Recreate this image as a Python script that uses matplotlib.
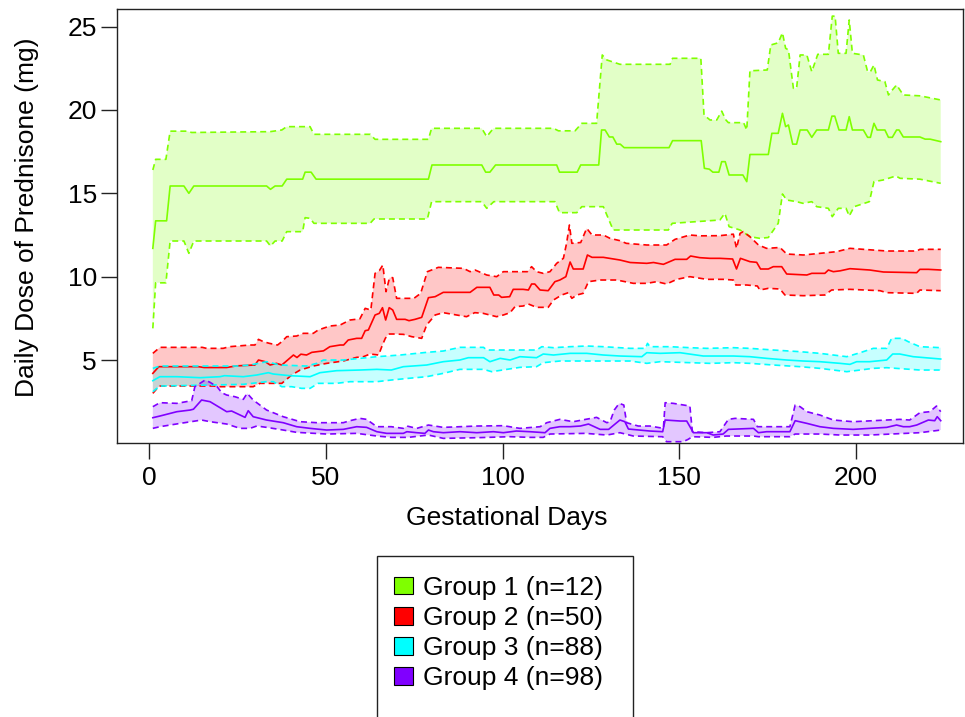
import matplotlib
matplotlib.use("Agg")
import matplotlib.pyplot as plt
from matplotlib.patches import Patch, Rectangle

plt.rcParams['font.family'] = ['Liberation Sans', 'DejaVu Sans']

# ---- Group 1 (n=12) ----
g1_mean_x = [1, 1.8, 4.9, 5.9, 9.8, 11.2, 12.6, 33.2, 34.3, 35.6, 37.6, 38.9, 43.4, 44.1, 45.8, 47.2,
             79.0, 80.0, 94.1, 95.2, 96.4, 98.0, 115.3, 116.1, 121.1, 122.1, 127.2, 128.0, 129, 130.2,
             131.2, 132.3, 133.3, 134.4, 147.1, 148.1, 156.2, 157.1, 158.5, 159.5, 161.2, 162.0, 163,
             164.1, 168.0, 169.1, 170.0, 175.2, 176.2, 178.0, 179.2, 180.1, 180.9, 182.1, 183.2, 184.2,
             186.2, 187.5, 188.9, 192.2, 193.2, 194.0, 195.2, 197.2, 198.1, 199, 202.1, 203.3, 204.1,
             205.1, 206, 208.2, 209.2, 210.3, 211.5, 212.2, 213.4, 218.1, 219.6, 221, 224.0]
g1_mean_y = [11.7, 13.35, 13.35, 15.44, 15.44, 15.0, 15.44, 15.44, 15.24, 15.44, 15.44, 15.85, 15.85,
             16.27, 16.27, 15.85, 15.85, 16.7, 16.7, 16.27, 16.27, 16.7, 16.7, 16.27, 16.27, 16.7, 16.7,
             18.8, 18.8, 18.38, 18.38, 17.95, 17.95, 17.74, 17.74, 18.16, 18.16, 16.5, 16.45, 16.27,
             16.27, 16.9, 16.9, 16.1, 16.1, 15.7, 17.33, 17.33, 18.6, 18.6, 19.8, 19.0, 19.1, 17.95,
             17.95, 18.8, 18.8, 18.36, 18.8, 18.8, 19.63, 19.63, 18.8, 18.8, 19.6, 18.8, 18.8, 18.36,
             18.36, 19.2, 18.8, 18.8, 18.36, 18.36, 18.8, 18.8, 18.38, 18.38, 18.25, 18.25, 18.1]
g1_hi_x = [1, 1.8, 4.7, 5.9, 10.6, 12, 34.2, 37.5, 38.9, 45.5, 46.6, 62.5, 63.9, 79, 79.9, 94.1, 95.5,
           97.4, 114.4, 115.8, 120.5, 122.4, 126.6, 128.2, 129.5, 131.8, 133.2, 147.4, 148.1, 156.1,
           157.0, 158.7, 160.6, 162.0, 163.2, 163.9, 168.2, 169.1, 170.0, 174.9, 175.9, 178.0, 179.2,
           180.1, 180.9, 182.3, 183.2, 184.2, 186.1, 187.5, 189.2, 192.2, 193.3, 194.1, 195.0, 197.2,
           198.1, 199, 202.1, 203.3, 204.1, 205.1, 206.1, 208.2, 209.2, 210.3, 211.5, 213.4, 218.1, 224.0]
g1_hi_y = [16.4, 17.04, 17.04, 18.73, 18.73, 18.65, 18.7, 18.8, 19.0, 19.0, 18.54, 18.54, 18.24, 18.24,
           18.9, 18.9, 18.4, 18.9, 18.9, 18.75, 18.75, 19.2, 19.2, 23.3, 23.0, 22.84, 22.74, 22.74,
           23.1, 23.1, 19.7, 19.4, 19.4, 19.93, 19.4, 19.24, 19.24, 18.8, 22.35, 22.4, 23.9, 24.03,
           24.63, 23.7, 23.6, 21.3, 21.3, 23.3, 23.3, 22.3, 23.34, 23.34, 25.63, 25.63, 23.4, 23.4,
           25.4, 23.4, 23.3, 22.3, 22.3, 22.7, 21.8, 21.7, 20.9, 21.2, 21.5, 20.9, 20.85, 20.6]
g1_lo_x = [1, 1.8, 4.7, 5.9, 9.8, 11.2, 12.6, 33.2, 34.3, 35.6, 37.6, 38.9, 43.4, 44.1, 45.5, 46.6,
           62.5, 63.6, 78.7, 79.9, 94.1, 95.5, 97.5, 114.8, 116.1, 121, 122.4, 128.5, 131.3, 146.9,
           148, 161.5, 162.9, 164.1, 167.2, 170, 172.8, 175.2, 178, 179.2, 180.4, 183.2, 185.0, 187.5,
           188.9, 192.2, 193.3, 195, 197.2, 198.1, 199.5, 203.8, 205.1, 207.7, 211.3, 212.5, 218.1, 224]
g1_lo_y = [6.9, 9.63, 9.63, 12.14, 12.14, 11.4, 12.14, 12.14, 11.84, 12.14, 12.14, 12.7, 12.7, 13.54,
           13.5, 13.2, 13.2, 13.46, 13.46, 14.5, 14.5, 14.1, 14.5, 14.5, 13.84, 13.84, 14.2, 14.2,
           12.8, 12.8, 13.2, 13.4, 13.8, 13.0, 12.8, 12.4, 12.3, 12.35, 13.2, 14.96, 14.6, 14.5, 14.4,
           14.5, 14.2, 14.1, 13.6, 14.1, 14.1, 13.64, 14.2, 14.5, 15.7, 15.8, 16.04, 15.9, 15.85, 15.6]

# ---- Group 2 (n=50) ----
g2_mean_x = [1, 2.7, 13.9, 15.5, 21.9, 24.7, 29.9, 30.9, 32.8, 34.2, 36, 37.5, 40.8, 41.8, 42.9, 44.5,
             46, 49.3, 51.1, 54, 55, 56.3, 58.7, 60.1, 61.1, 62, 63.9, 65.1, 66, 66.9, 67.9, 68.9, 70,
             72.4, 73.5, 75.2, 77.1, 79, 80.9, 83.2, 90.8, 92.7, 96.4, 97.5, 98.9, 99.7, 102, 103,
             105.8, 107.3, 108.2, 109.1, 110.6, 112.9, 114.8, 116.2, 117.9, 119.1, 120, 122.8, 124,
             125.3, 128.5, 133.2, 136.1, 140.8, 142.7, 145.5, 148.8, 152.1, 153.2, 155.8, 158.7, 161.5,
             165.1, 166.2, 167.3, 170, 171.9, 173, 175.2, 176.6, 179, 180.4, 186.1, 187.5, 191.2, 192.2,
             193.6, 195.5, 198.3, 203.9, 207.8, 217.2, 218.1, 220.5, 224]
g2_mean_y = [4.2, 4.6, 4.6, 4.55, 4.55, 4.65, 4.7, 5.0, 4.9, 4.7, 4.8, 4.7, 5.3, 5.15, 5.35, 5.3, 5.46,
             5.55, 5.8, 5.9, 5.9, 6.2, 6.3, 6.3, 6.76, 6.8, 7.7, 7.8, 8.14, 7.4, 8.14, 8.0, 7.44, 7.44,
             7.36, 7.44, 7.56, 8.74, 8.8, 9.06, 9.06, 9.36, 9.36, 8.9, 8.9, 8.76, 8.8, 9.24, 9.24, 9.2,
             9.56, 9.56, 9.2, 9.16, 9.7, 9.8, 10.0, 10.88, 10.46, 10.46, 11.3, 11.16, 11.16, 11.0,
             10.85, 10.8, 10.85, 10.74, 11.04, 11.04, 11.24, 11.14, 11.1, 11.1, 11.06, 10.46, 11.1,
             10.9, 10.86, 10.46, 10.46, 10.6, 10.6, 10.16, 10.1, 10.2, 10.2, 10.4, 10.3, 10.35, 10.48,
             10.4, 10.28, 10.24, 10.44, 10.44, 10.4]
g2_hi_x = [1, 3, 15, 16.2, 20.9, 22.7, 28.5, 29.9, 30.9, 32.3, 34, 36.3, 37.5, 38.9, 41.7, 43.6, 46.4,
           47.8, 51.1, 54, 56.8, 59.6, 61.1, 62.7, 63.9, 65.1, 66.1, 67, 68, 68.9, 70, 74.9, 76.8,
           78.7, 81.8, 88.9, 90.8, 92.2, 95.5, 98.3, 100.2, 103, 107, 108.2, 109.6, 111.5, 113.4,
           115.3, 117.2, 118.1, 118.9, 119.6, 122.1, 123.8, 125.3, 128.5, 130.4, 133.2, 135, 140.8,
           146.4, 148.8, 153, 155.8, 161.5, 165.3, 166.2, 167.2, 168.1, 170, 172.4, 174.7, 178.5,
           180.4, 185.1, 191.7, 194.5, 198.3, 202.1, 208.7, 217.2, 218.1, 224]
g2_hi_y = [5.4, 5.76, 5.76, 5.7, 5.7, 5.8, 5.9, 5.9, 6.24, 6.1, 6.0, 5.9, 6.1, 6.4, 6.44, 6.6, 6.6,
           6.8, 7.04, 7.1, 7.4, 7.47, 8.1, 8.0, 10.2, 10.36, 10.7, 9.1, 9.94, 9.94, 8.7, 8.7, 9.0,
           10.3, 10.56, 10.5, 10.3, 10.4, 10.1, 10.0, 10.3, 10.3, 10.3, 10.6, 10.3, 10.2, 10.3, 10.8,
           11.1, 12.0, 13.1, 12.0, 12.05, 12.9, 12.5, 12.5, 12.3, 12.16, 12.0, 11.9, 11.9, 12.24,
           12.5, 12.45, 12.46, 12.55, 11.7, 12.6, 12.7, 12.4, 11.9, 11.7, 11.75, 11.36, 11.3, 11.44,
           11.5, 11.7, 11.64, 11.54, 11.54, 11.64, 11.64]
g2_lo_x = [1, 2.8, 18.1, 20, 29.4, 31.3, 37.5, 40.3, 42.7, 46.4, 50.2, 54.9, 58.7, 60.6, 62.5, 64.9,
           65.8, 66.8, 67.7, 69.1, 71.9, 74.3, 77.1, 78.5, 80.9, 83.2, 87, 89.8, 92.1, 94.5, 98.3,
           100.2, 102.1, 103.5, 105.8, 107.3, 109.6, 112.9, 114.4, 116.7, 118.6, 119.6, 121, 122.8,
           124.3, 127.6, 132.3, 137, 140.8, 143.6, 146.4, 149.3, 153, 157.8, 162.4, 165.3, 166, 169.1,
           172.1, 172.8, 175.2, 178.5, 179.9, 185.1, 191.2, 193.1, 198.3, 206.8, 208.7, 217.2, 218.1, 224]
g2_lo_y = [3.0, 3.44, 3.44, 3.4, 3.4, 3.6, 3.6, 4.1, 4.4, 4.64, 4.8, 4.94, 5.16, 5.2, 5.36, 5.3, 5.8,
           6.3, 6.56, 6.56, 6.54, 6.4, 6.3, 7.1, 7.7, 7.84, 7.7, 7.6, 7.84, 7.8, 7.6, 7.7, 7.84, 8.2,
           8.24, 8.36, 8.16, 8.16, 8.6, 8.9, 9.04, 8.7, 8.9, 9.0, 9.7, 9.8, 9.8, 9.6, 9.6, 9.7, 9.56,
           9.84, 10.0, 9.84, 9.84, 9.8, 9.5, 9.5, 9.44, 9.2, 9.3, 9.26, 8.9, 8.86, 8.9, 9.2, 9.24,
           9.16, 9.04, 9.0, 9.2, 9.16]

# ---- Group 3 (n=88) ----
g3_mean_x = [1, 3, 7.8, 14.4, 20, 21.3, 26.6, 30.4, 33.7, 35.1, 39.8, 45.5, 48.3, 53, 59.6, 64.4, 68.5,
             71.9, 78.5, 83.2, 87.9, 90.3, 94.6, 96.4, 99.3, 102.1, 104.9, 109.6, 111.5, 114.4, 119.1,
             123.8, 128.5, 133.2, 139.4, 140.8, 144.6, 150.2, 156.8, 165.3, 170, 174.7, 180.4, 185.1,
             189.8, 195.5, 198.3, 200.2, 203.9, 208.7, 210.4, 212.4, 216.2, 224]
g3_mean_y = [3.76, 4.0, 4.0, 3.94, 4.0, 4.06, 4.0, 4.1, 4.24, 4.16, 4.06, 4.0, 4.24, 4.36, 4.4, 4.44,
             4.4, 4.6, 4.7, 4.9, 5.0, 5.14, 5.14, 4.9, 5.1, 5.0, 5.2, 5.14, 5.36, 5.3, 5.4, 5.4, 5.3,
             5.24, 5.2, 5.44, 5.4, 5.44, 5.24, 5.24, 5.2, 5.1, 5.0, 4.94, 4.9, 4.8, 4.74, 4.9, 4.9,
             5.0, 5.36, 5.36, 5.2, 5.06]
g3_hi_x = [1, 3, 24.7, 28.5, 33.2, 37, 44.5, 47.4, 49.3, 54.9, 59.6, 64.4, 71, 78.5, 83.2, 87.9, 94.6,
           95.5, 102.1, 109.6, 111.1, 114.4, 119.1, 123.8, 128.5, 136.1, 140.4, 141, 141.7, 147.4, 153,
           157.8, 165.3, 170, 176.6, 184.2, 189.8, 197.4, 201.2, 204.9, 208.7, 210.1, 213, 214.8,
           218.1, 224]
g3_hi_y = [4.5, 4.64, 4.64, 4.7, 4.9, 4.7, 4.64, 4.8, 5.0, 5.0, 5.1, 5.2, 5.3, 5.46, 5.54, 5.76, 5.76,
           5.6, 5.6, 5.6, 5.8, 5.74, 5.8, 5.84, 5.8, 5.7, 5.7, 6.0, 5.8, 5.8, 5.74, 5.7, 5.74, 5.7,
           5.6, 5.5, 5.4, 5.2, 5.44, 5.7, 5.7, 6.3, 6.3, 6.1, 5.8, 5.74]
g3_lo_x = [1, 3, 17.2, 26.6, 33.2, 35.1, 37.5, 40.3, 43.1, 45.5, 47.8, 53, 56.8, 64.4, 68.5, 73.3,
           78.5, 83.2, 87.9, 94.6, 96.9, 104.9, 109.6, 111.5, 116.2, 136.1, 140.8, 144.6, 158.7,
           165.3, 170, 176.6, 184.2, 189.8, 197.4, 201.2, 204.9, 208.7, 218.1, 224]
g3_lo_y = [3.1, 3.44, 3.5, 3.54, 3.7, 3.7, 3.4, 3.4, 3.3, 3.3, 3.6, 3.6, 3.7, 3.7, 3.8, 3.9, 4.0, 4.2,
           4.44, 4.44, 4.3, 4.56, 4.6, 4.84, 4.94, 4.94, 4.8, 4.9, 4.8, 4.84, 4.8, 4.7, 4.6, 4.5,
           4.3, 4.4, 4.5, 4.54, 4.4, 4.4]

# ---- Group 4 (n=98) ----
g4_mean_x = [1, 3, 7.8, 11.6, 12.5, 14.8, 17.2, 21.9, 23.3, 25.7, 27.1, 28, 29.4, 33.2, 37.9, 41.7,
             45.5, 50.2, 54.9, 58.7, 61.5, 64.4, 67.2, 71.9, 72.9, 75.7, 78, 79, 80.4, 83.2, 87.9,
             92.7, 97.4, 100.2, 103.9, 107.7, 112, 113.4, 116.2, 119.1, 122, 124.3, 127.6, 130, 133.2,
             134.6, 135.6, 141.7, 145.3, 146, 150.3, 152.1, 154, 157.8, 159.6, 162.4, 163.9, 171,
             172.4, 174.7, 181.3, 182.8, 186.1, 189.8, 193.6, 199.2, 203.9, 208.7, 211.5, 213.4,
             215.2, 217.2, 220.5, 222.3, 223, 224]
g4_mean_y = [1.54, 1.64, 1.9, 2.0, 2.05, 2.6, 2.5, 1.9, 1.94, 1.7, 1.56, 1.96, 1.6, 1.4, 1.24, 1.0,
             0.9, 0.8, 0.84, 1.0, 0.96, 0.7, 0.6, 0.6, 0.7, 0.64, 0.6, 0.8, 0.7, 0.64, 0.7, 0.64, 0.7,
             0.64, 0.74, 0.7, 0.64, 0.9, 1.0, 1.0, 1.04, 1.16, 0.84, 0.84, 1.4, 1.3, 0.86, 0.74, 0.7,
             1.4, 1.34, 1.34, 0.64, 0.64, 0.5, 0.56, 0.84, 0.9, 0.64, 0.7, 0.7, 1.36, 1.2, 1.0, 0.9,
             0.84, 0.9, 0.96, 1.1, 1.0, 1.0, 1.1, 1.4, 1.36, 1.6, 1.36]
g4_hi_x = [1, 3, 7.8, 12, 12.9, 15.8, 17.2, 19.2, 20.5, 21.9, 24.2, 26.6, 27.7, 29.4, 33.2, 37.9,
           42.7, 47.4, 54.9, 56.8, 59.6, 61.5, 64.4, 68.5, 71.9, 72.9, 75.7, 79, 83.2, 92.7, 100.2,
           104.9, 110.6, 112.5, 116.2, 120, 123.5, 126.6, 129.5, 130.4, 131.6, 133, 134.3, 135.1,
           138.4, 141.7, 145.5, 146, 148.3, 153, 153.7, 157.8, 161.5, 163.9, 165.8, 171, 172.1,
           181.3, 182.8, 184.2, 186.1, 189.8, 193.6, 199.2, 204.9, 212.4, 215.2, 218.1, 220.9,
           222.8, 224]
g4_hi_y = [2.2, 2.44, 2.4, 2.56, 3.4, 3.8, 3.66, 3.4, 3.04, 2.9, 2.8, 2.64, 3.0, 2.6, 2.0, 1.6, 1.3,
           1.24, 1.24, 1.36, 1.5, 1.44, 1.0, 1.0, 0.9, 1.04, 0.9, 1.1, 0.96, 1.04, 1.06, 0.9, 1.0,
           1.24, 1.44, 1.3, 1.44, 1.56, 1.24, 1.3, 2.0, 2.4, 2.3, 1.24, 1.04, 1.04, 0.9, 2.44, 2.4,
           2.24, 0.7, 0.64, 0.7, 1.44, 1.5, 1.44, 1.0, 1.0, 2.3, 2.2, 1.9, 1.7, 1.4, 1.3, 1.36, 1.44,
           1.4, 1.84, 1.9, 2.24, 1.9]
g4_lo_x = [1, 3, 8.8, 14.8, 17.2, 21.9, 25.7, 28.5, 30.4, 33.2, 37.9, 41.7, 50.2, 58.7, 64.4, 68.5,
           73.3, 79, 83.2, 92.7, 102.1, 107.7, 111.5, 113.4, 123.5, 129.5, 133.2, 137, 145.3, 146.4,
           151.1, 152.5, 153.7, 159.6, 163.3, 171, 172.4, 181.3, 182.8, 189.8, 195.5, 203.9, 218.1, 224]
g4_lo_y = [0.9, 1.0, 1.2, 1.4, 1.3, 1.16, 0.9, 0.9, 1.04, 0.96, 0.8, 0.66, 0.56, 0.6, 0.44, 0.36,
           0.36, 0.5, 0.3, 0.34, 0.4, 0.36, 0.36, 0.56, 0.6, 0.5, 0.64, 0.44, 0.4, 0.1, 0.1, 0.24,
           0.4, 0.36, 0.44, 0.44, 0.4, 0.4, 0.56, 0.56, 0.5, 0.5, 0.64, 0.8]

labels = ["Group 1 (n=12)", "Group 2 (n=50)", "Group 3 (n=88)", "Group 4 (n=98)"]
colors = ["#7FFF00", "#FF0000", "#00FFFF", "#8000FF"]

groups = [
    (g1_mean_x, g1_mean_y, g1_hi_x, g1_hi_y, g1_lo_x, g1_lo_y),
    (g2_mean_x, g2_mean_y, g2_hi_x, g2_hi_y, g2_lo_x, g2_lo_y),
    (g3_mean_x, g3_mean_y, g3_hi_x, g3_hi_y, g3_lo_x, g3_lo_y),
    (g4_mean_x, g4_mean_y, g4_hi_x, g4_hi_y, g4_lo_x, g4_lo_y),
]


def draw_band(ax, group, color):
    mx, my, hx, hy, lx, ly = group
    # band polygon: upper edge forward, lower edge back
    poly_x = list(hx) + list(reversed(lx))
    poly_y = list(hy) + list(reversed(ly))
    ax.fill(poly_x, poly_y, color=color, alpha=0.22, linewidth=0)
    ax.plot(hx, hy, color=color, lw=1.2, linestyle=(0, (3.6, 2.4)))
    ax.plot(lx, ly, color=color, lw=1.2, linestyle=(0, (3.6, 2.4)))
    ax.plot(mx, my, color=color, lw=1.2)


fig = plt.figure(figsize=(9.65, 7.17), dpi=100)
ax = fig.add_axes([117 / 965, 1 - 442.7 / 717, 846 / 965, 433.4 / 717])

for grp, col in zip(groups, colors):
    draw_band(ax, grp, col)

ax.set_xlim(-9.14, 230.3)
ax.set_ylim(0.04, 26.04)
ax.set_xticks([0, 50, 100, 150, 200])
ax.set_yticks([5, 10, 15, 20, 25])
ax.tick_params(axis='both', direction='out', length=11.5, width=1.0, labelsize=19, color='#222222')
ax.tick_params(axis='x', pad=5)
ax.tick_params(axis='y', pad=3)
for sp in ax.spines.values():
    sp.set_linewidth(1.0)
    sp.set_color('#222222')

fig.text(507 / 965, 1 - 518 / 717, "Gestational Days", ha='center', va='center', fontsize=19)
fig.text(27 / 965, 1 - 217.5 / 717, "Daily Dose of Prednisone (mg)", ha='center', va='center',
         rotation=90, fontsize=19)

handles = [Patch(facecolor=c, edgecolor='black', linewidth=0.8) for c in colors]
fig.legend(handles, labels, loc='upper left', bbox_to_anchor=(394 / 965, 1 - 576 / 717),
           frameon=False, fontsize=19, borderpad=0, borderaxespad=0, labelspacing=0.23,
           handlelength=0.72, handleheight=0.64, handletextpad=0.38)
fig.patches.append(Rectangle((376.7 / 965, -0.05), (633.3 - 376.7) / 965, (717 + 35.85 - 556) / 717,
                             transform=fig.transFigure, fill=False, edgecolor='#222222', linewidth=1.0))

fig.savefig("out.png", dpi=100)
